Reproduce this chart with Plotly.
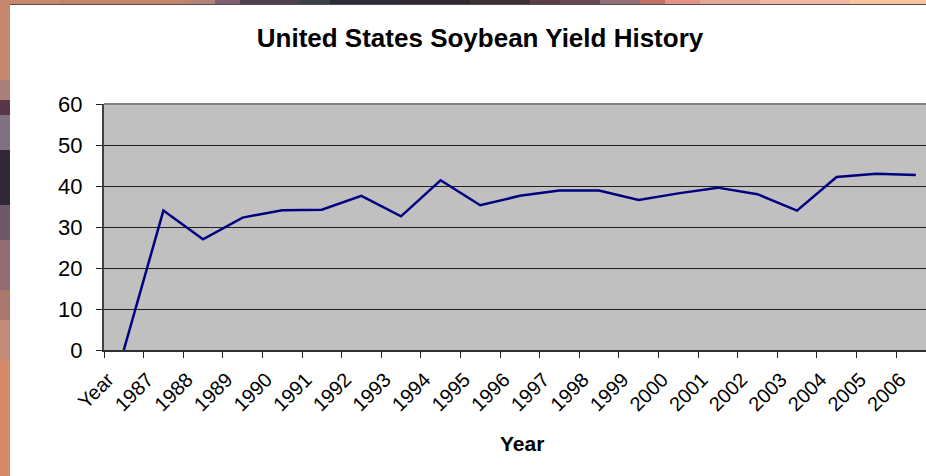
import plotly.graph_objects as go

# Soybean yield, bushels per acre
years = ["Year", "1987", "1988", "1989", "1990", "1991", "1992", "1993", "1994",
         "1995", "1996", "1997", "1998", "1999", "2000", "2001", "2002", "2003",
         "2004", "2005", "2006"]
yields = [0, 34.0, 27.0, 32.3, 34.1, 34.2, 37.6, 32.6, 41.4, 35.3, 37.6, 38.9,
          38.9, 36.6, 38.2, 39.6, 38.0, 34.0, 42.2, 43.0, 42.7]

y_ticks = [0, 10, 20, 30, 40, 50, 60]

W, H = 926, 476
ML, MR, MT, MB = 104, 0, 104, 126
PW, PH = W - ML - MR, H - MT - MB
CAT_PX = 39.6        # width of one category slot in pixels
LABEL_OFFSET = 0.4   # rotated labels sit a little left of their slot centre

slot = list(range(len(years)))


def px_x(px):
    return (px - ML) / PW


def px_y(py):
    return (H - MB - py) / PH


# decorative backdrop strips around the chart sheet (pixel spans and colours)
top_strip = [(0, 60, "#c8886c"), (60, 190, "#c4846c"), (190, 215, "#b08478"),
             (215, 240, "#806070"), (240, 300, "#504050"), (300, 330, "#384048"),
             (330, 400, "#2e2c3a"), (400, 470, "#302830"), (470, 530, "#3c3034"),
             (530, 560, "#5a3c44"), (560, 600, "#684850"), (600, 640, "#947078"),
             (640, 665, "#c07060"), (665, 700, "#e49484"), (700, 760, "#e4a898"),
             (760, 850, "#f0b8a0"), (850, 926, "#f8c49c")]
left_strip = [(0, 80, "#c4866c"), (80, 100, "#a88078"), (100, 115, "#583848"),
              (115, 150, "#807080"), (150, 205, "#302838"), (205, 240, "#6c5a68"),
              (240, 290, "#946c74"), (290, 320, "#a8786c"), (320, 360, "#c48c78"),
              (360, 476, "#d48a68")]

shapes = []
for x0, x1, c in top_strip:
    shapes.append(dict(type="rect", xref="paper", yref="paper",
                       x0=px_x(x0), x1=px_x(x1), y0=px_y(4), y1=px_y(0),
                       fillcolor=c, line=dict(width=0), layer="above"))
for y0, y1, c in left_strip:
    shapes.append(dict(type="rect", xref="paper", yref="paper",
                       x0=px_x(0), x1=px_x(10), y0=px_y(y1), y1=px_y(y0),
                       fillcolor=c, line=dict(width=0), layer="above"))
# thin dark edge under the top strip
shapes.append(dict(type="line", xref="paper", yref="paper",
                   x0=px_x(10), x1=px_x(W), y0=px_y(4.5), y1=px_y(4.5),
                   line=dict(color="#505050", width=1), layer="above"))
# grey top border of the plot area
shapes.append(dict(type="line", xref="paper", yref="paper",
                   x0=0, x1=1, y0=1, y1=1,
                   line=dict(color="#808080", width=2), layer="above"))

fig = go.Figure()
fig.add_trace(go.Scatter(
    x=slot, y=yields, mode="lines",
    line=dict(color="#000080", width=2.5),
    customdata=years, hovertemplate="%{customdata}: %{y}<extra></extra>",
    showlegend=False,
))

fig.update_layout(
    width=W, height=H,
    margin=dict(l=ML, r=MR, t=MT, b=MB, pad=0),
    paper_bgcolor="white",
    plot_bgcolor="#c0c0c0",
    font=dict(family="Liberation Sans, Arial, sans-serif", color="black"),
    title=dict(text="<b>United States Soybean Yield History</b>",
               x=480 / W, xanchor="center", xref="container",
               y=1 - 38 / H, yanchor="middle", yref="container",
               font=dict(size=26, color="black")),
    xaxis=dict(
        range=[-0.5, -0.5 + PW / CAT_PX],
        tickmode="array",
        tickvals=[i - LABEL_OFFSET for i in slot],
        ticktext=years,
        ticks="",
        tickangle=-45,
        tickfont=dict(size=20),
        ticklabelstandoff=8,
        minor=dict(tickmode="linear", tick0=-0.5, dtick=1, ticks="outside",
                   ticklen=6, tickwidth=1, tickcolor="#202020", showgrid=False),
        showgrid=False,
        showline=True, linecolor="#303030", linewidth=2,
        zeroline=False,
    ),
    yaxis=dict(
        range=[0, 60],
        tickvals=y_ticks,
        ticks="outside", ticklen=6, tickwidth=1, tickcolor="#202020",
        tickfont=dict(size=22),
        ticklabelstandoff=9,
        showgrid=True, gridcolor="#202020", gridwidth=1,
        showline=True, linecolor="#404040", linewidth=2,
        zeroline=False,
    ),
    shapes=shapes,
    annotations=[dict(text="<b>Year</b>", xref="paper", yref="paper",
                      x=px_x(522), y=px_y(443), xanchor="center", yanchor="middle",
                      showarrow=False, font=dict(size=21, color="black"))],
)

fig.write_html("out.html")
